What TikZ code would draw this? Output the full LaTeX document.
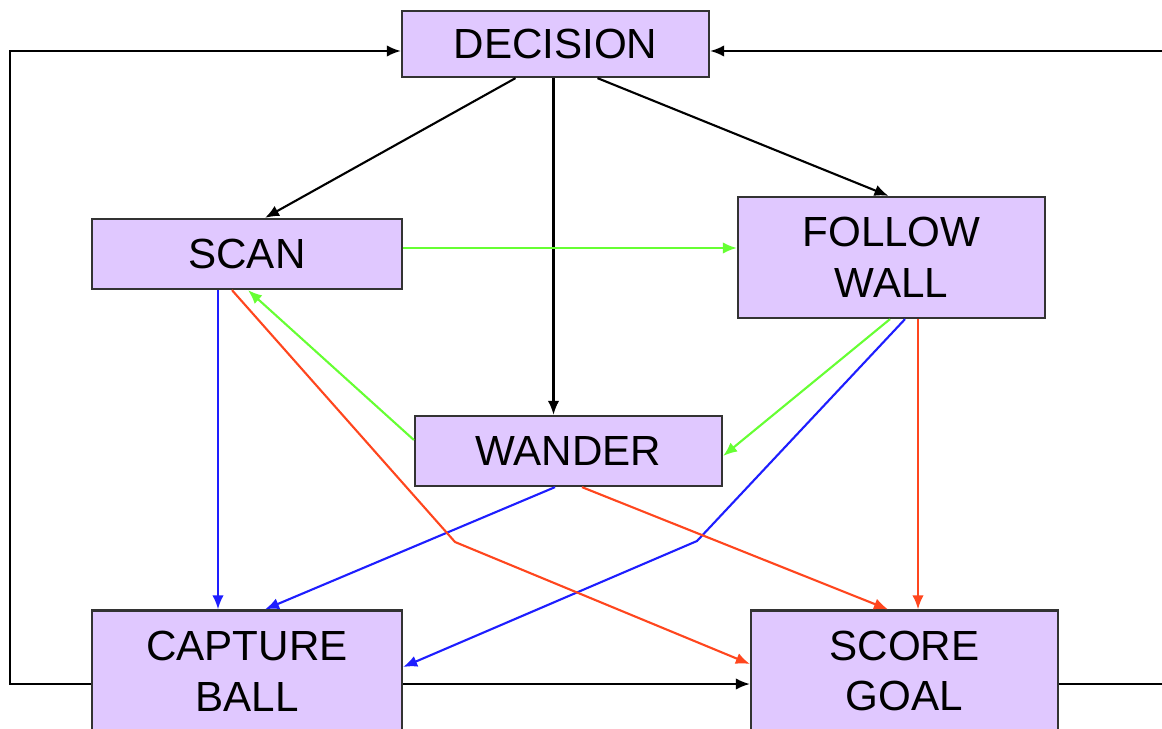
\documentclass[tikz,border=0pt]{standalone}
\usepackage{fontspec}
\setmainfont{Liberation Sans}
\usepackage{tikz}
\usetikzlibrary{calc}
\usetikzlibrary{arrows.meta}
\definecolor{boxfill}{RGB}{224,200,255}
\definecolor{lgreen}{RGB}{102,255,51}
\definecolor{lblue}{RGB}{30,30,255}
\definecolor{lred}{RGB}{255,70,30}

\begin{document}
\begin{tikzpicture}[x=0.02cm,y=-0.02cm,>={Latex[length=8pt,width=6.5pt]},
    state/.style={draw=black!80,line width=1.3pt,fill=boxfill,minimum width=6.14cm,minimum height=1.32cm,inner sep=0pt,align=center,font=\fontsize{24}{29}\selectfont},
    tall/.style={minimum height=2.42cm},
    link/.style={->,line width=1.2pt}]
    \useasboundingbox (0,0) rectangle (1162,729);
    \clip (0,0) rectangle (1162,729);
    % states
    \node[state] (decision) at (555.5,44) {DECISION};
    \node[state,minimum width=6.2cm,minimum height=1.4cm] (scan) at (247,254) {SCAN};
    \node[state,tall] (follow) at (891.5,257.5) {FOLLOW\\WALL};
    \node[state,minimum height=1.4cm] (wander) at (568.5,451) {WANDER};
    \node[state,tall,minimum width=6.2cm] (capture) at (247,671) {CAPTURE\\BALL};
    \node[state,tall] (score) at (904.5,671) {SCORE\\GOAL};
    % bends
    \coordinate (redbend) at (455,542);
    \coordinate (bluebend) at (697,541);
    \coordinate (lefttop) at (10,51);
    \coordinate (righttop) at (1175,51);
    % from decision
    \draw[link] ($(decision.south)+(-40,0)$) -- ($(scan.north)+(18,0)$);
    \draw[link] ($(decision.south)+(-2,0)$) -- ($(wander.north)+(-15,0)$);
    \draw[link] ($(decision.south)+(42,0)$) -- ($(follow.north)+(-3,0)$);
    % green
    \draw[link,lgreen] ($(scan.east)+(0,-6)$) -- ($(follow.west)+(0,-9.5)$);
    \draw[link,lgreen] ($(wander.west)+(0,-11)$) -- ($(scan.south)+(1,0)$);
    \draw[link,lgreen] ($(follow.south)+(-1.5,0)$) -- ($(wander.east)+(0,5)$);
    % blue
    \draw[link,lblue] ($(scan.south)+(-29,0)$) -- ($(capture.north)+(-29,0)$);
    \draw[link,lblue] ($(follow.south)+(13.5,0)$) -- (bluebend) -- ($(capture.east)+(0,-4)$);
    \draw[link,lblue] ($(wander.south)+(-13.5,0)$) -- ($(capture.north)+(18,0)$);
    % red
    \draw[link,lred] ($(scan.south)+(-15,0)$) -- (redbend) -- ($(score.west)+(0,-7)$);
    \draw[link,lred] ($(follow.south)+(26.5,0)$) -- ($(score.north)+(13.5,0)$);
    \draw[link,lred] ($(wander.south)+(13.5,0)$) -- ($(score.north)+(-16.5,0)$);
    % back to decision
    \draw[link] ($(capture.east)+(0,13)$) -- ($(score.west)+(0,13)$);
    \draw[link] ($(capture.west)+(0,13)$) -| (lefttop) -- ($(decision.west)+(0,7)$);
    \draw[link] ($(score.east)+(0,13)$) -| (righttop) -- ($(decision.east)+(0,7)$);
\end{tikzpicture}
\end{document}
